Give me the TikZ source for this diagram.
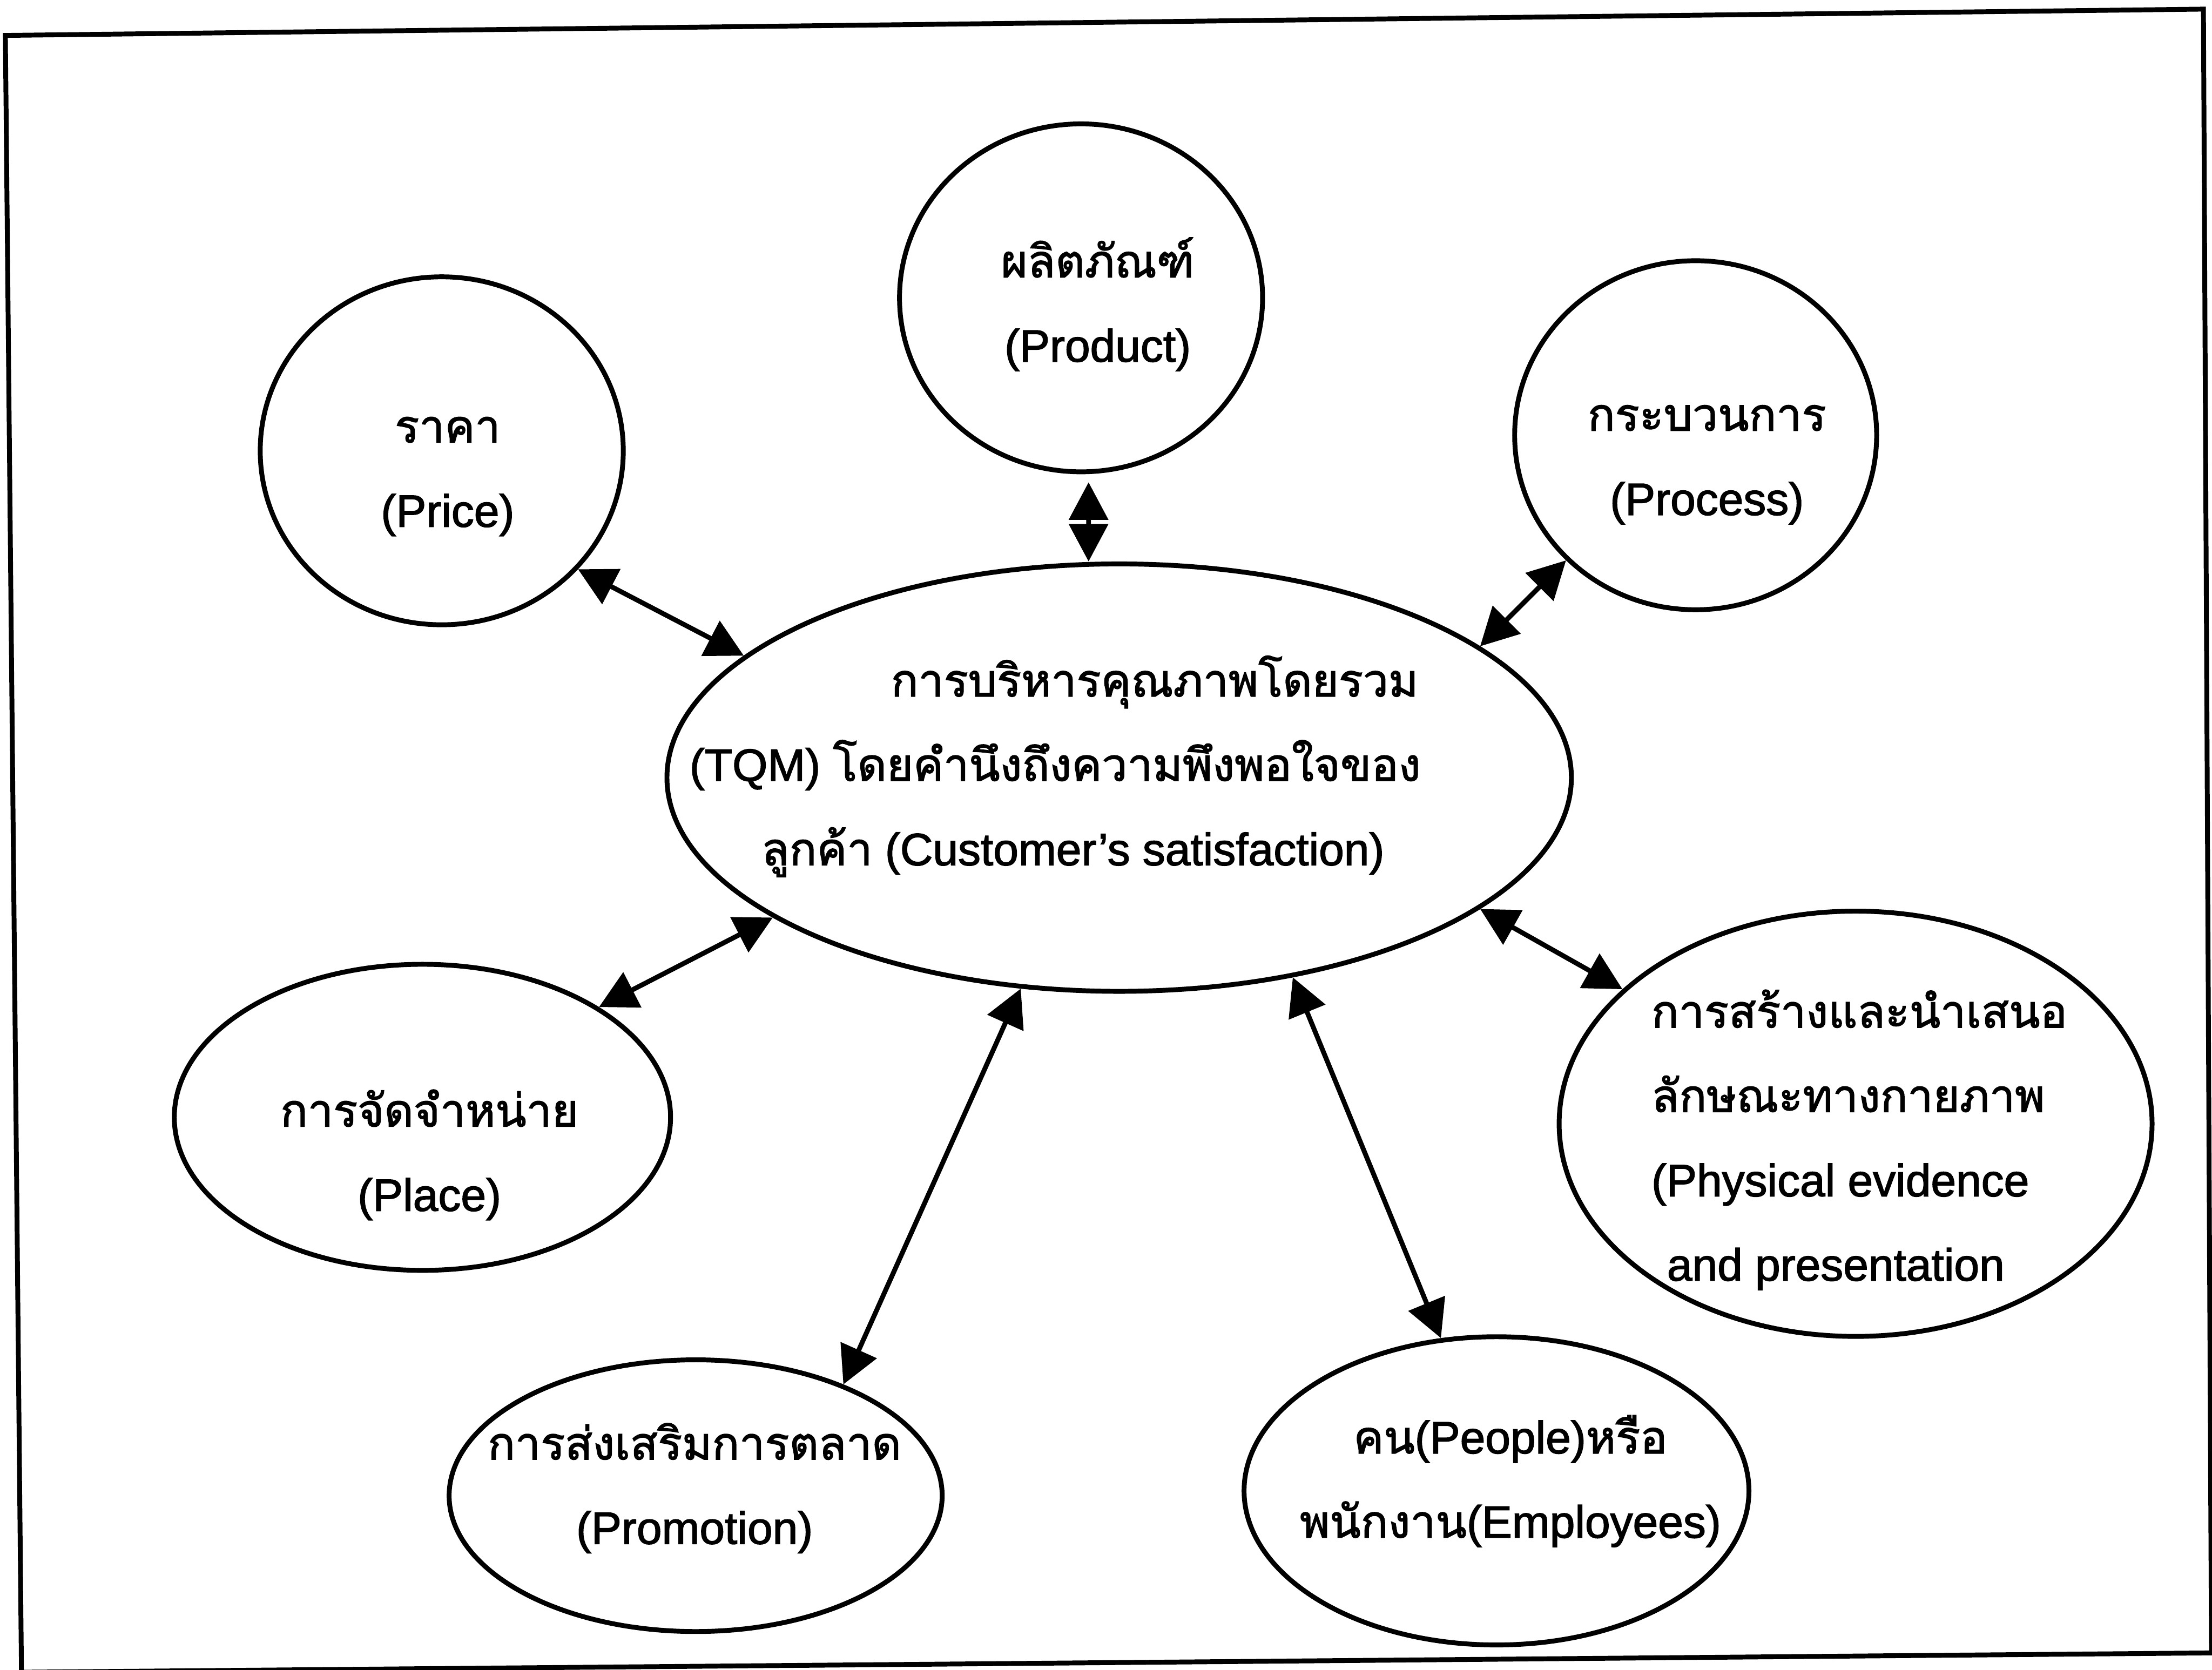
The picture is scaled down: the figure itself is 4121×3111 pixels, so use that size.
\documentclass[tikz,border=0pt]{standalone}
\usepackage{fontspec}
\setmainfont{Liberation Sans}[FakeBold=1.8]
\newfontfamily\thaifont[Script=Thai, FakeBold=1.8]{Loma}
\newcommand{\thai}[1]{{\thaifont #1}}
\usetikzlibrary{shapes.geometric, arrows.meta, calc}

\begin{document}
\begin{tikzpicture}[x=0.01cm, y=-0.01cm,
    >={Triangle[length=0.7cm, width=0.72cm]},
    bubble/.style={draw, ellipse, line width=0.09cm, inner sep=0pt},
    txt/.style={inner sep=0pt, align=center, font=\fontsize{24}{44.7}\selectfont},
    link/.style={<->, line width=0.09cm}]
  \useasboundingbox (0,0) rectangle (4121,3111);
  \fill[white] (0,0) rectangle (4121,3111);
  % scanned frame, a little tilted
  \draw[line width=0.09cm] (10,66) -- (4105,17) -- (4120,3080) -- (40,3116) -- cycle;

  % centre
  \node[bubble, minimum width=16.84cm, minimum height=7.96cm] (tqm) at (2085,1449) {};
  \node[txt, align=left, anchor=west] (tqmtxt) at ($(tqm)+(-801,-21)$)
    {\hspace*{3.75cm}\thai{การบริหารคุณภาพโดยรวม}\\
     (TQM) \thai{โดยคำนึงถึงความพึงพอใจของ}\\
     \hspace*{1.34cm}\thai{ลูกค้า} (Customer’s satisfaction)};

  % the parts round it
  \node[bubble, minimum width=6.76cm, minimum height=6.48cm] (price) at (823,840) {};
  \node[txt] (pricetxt) at ($(price)+(11,48)$) {\thai{ราคา}\\(Price)};
  \node[bubble, minimum width=6.76cm, minimum height=6.48cm] (product) at (2014,555) {};
  \node[txt] (producttxt) at ($(product)+(31,12)$) {\thai{ผลิตภัณฑ์}\\(Product)};
  \node[bubble, minimum width=6.74cm, minimum height=6.50cm] (process) at (3159,811) {};
  \node[txt] (processtxt) at ($(process)+(21,55)$) {\thai{กระบวนการ}\\(Process)};
  \node[bubble, minimum width=9.24cm, minimum height=5.70cm] (place) at (787,2082) {};
  \node[txt] (placetxt) at ($(place)+(13,70)$) {\thai{การจัดจำหน่าย}\\(Place)};
  \node[bubble, minimum width=9.18cm, minimum height=5.06cm] (promotion) at (1296,2787) {};
  \node[txt] (promotiontxt) at ($(promotion)+(-2,-14)$) {\thai{การส่งเสริมการตลาด}\\(Promotion)};
  \node[bubble, minimum width=9.40cm, minimum height=5.74cm] (people) at (2788,2778) {};
  \node[txt] (peopletxt) at ($(people)+(26,-18)$)
    {\thai{คน}(People)\thai{หรือ}\\\thai{พนักงาน}(Employees)};
  \node[bubble, minimum width=11.04cm, minimum height=7.92cm] (physical) at (3457,2094) {};
  \node[txt, align=left, anchor=west] (physicaltxt) at ($(physical)+(-381,30)$)
    {\thai{การสร้างและนำเสนอ}\\\thai{ลักษณะทางกายภาพ}\\(Physical evidence\\\hspace*{0.29cm}and presentation};

  % links
  \draw[link] (price.-41) -- (tqm.162);
  \draw[link] ([shift={(14,15)}]product.south) -- ([xshift=0.14cm]product.south |- tqm.north);
  \draw[link] (process.-136) -- (tqm.20);
  \draw[link] (physical.150) -- (tqm.-20);
  \draw[link] (place.32) -- (tqm.-158);
  \draw[link] (promotion.37) -- (tqm.-115);
  \draw[link] (people.110) -- (tqm.-49);
\end{tikzpicture}
\end{document}
